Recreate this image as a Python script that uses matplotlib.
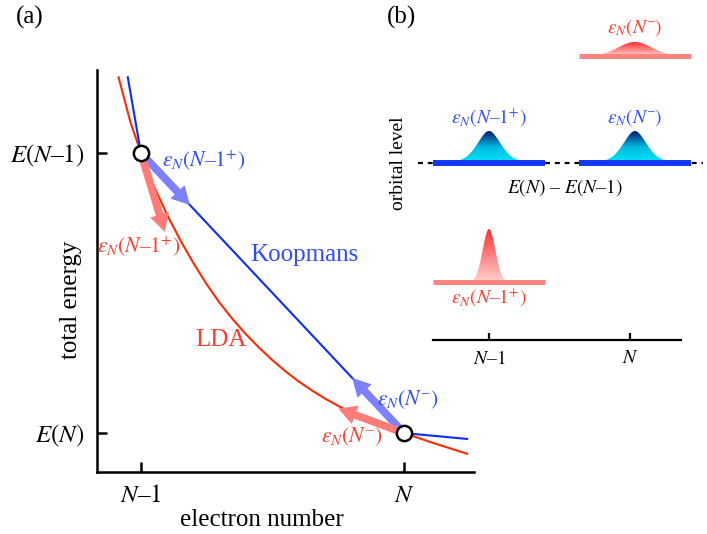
import numpy as np
import matplotlib
matplotlib.use("Agg")
import matplotlib.pyplot as plt
from matplotlib.patches import Polygon
from matplotlib.colors import LinearSegmentedColormap

plt.rcParams['font.family'] = 'serif'
plt.rcParams['font.serif'] = ['Liberation Serif', 'DejaVu Serif']
plt.rcParams['mathtext.fontset'] = 'stix'

# ---- (a) total energy vs electron number (N-1 -> 0, N -> 1)
lda_x = [-0.085, -0.04, 0.0, 0.05, 0.1, 0.15, 0.2, 0.25, 0.3, 0.35, 0.4, 0.45, 0.5,
         0.55, 0.6, 0.65, 0.7, 0.75, 0.8, 0.85, 0.9, 0.95, 1.0, 1.05, 1.1, 1.15, 1.2, 1.24]
lda_E = [1.27, 1.11, 1.0, 0.88, 0.778, 0.688, 0.606, 0.531, 0.464, 0.405, 0.352, 0.304, 0.26,
         0.22, 0.184, 0.152, 0.123, 0.097, 0.073, 0.052, 0.033, 0.016, 0.0, -0.016, -0.032, -0.047, -0.062, -0.074]
koop_x = [-0.05, 0.0, 1.0, 1.24]
koop_E = [1.27, 1.0, 0.0, -0.021]

integer_x = [0.0, 1.0]
integer_E = [1.0, 0.0]
x_ticklabels = [r'$N$–$1$', r'$N$']
y_ticklabels = [r'$E(N$–$1)$', r'$E(N)$']

# tangent arrows: slope and x-extent from each integer point
koop_slopes = [-1.0, -1.0]
koop_dx = [0.186, -0.197]
lda_slopes = [-3.1, -0.35]
lda_dx = [0.091, -0.25]

# ---- (b) orbital levels
level_x = [0.0, 1.035]
koop_level = [0.0, 0.0]
lda_level = [-1.19, 1.07]
koop_peak_h = [0.32, 0.32]
koop_width = [0.085, 0.085]
lda_peak_h = [0.53, 0.14]
lda_width = [0.045, 0.12]
bar_half = 0.4

RED = '#ff2a00'
BLUE = '#0a2cff'
RED_TXT = '#ff3b2a'
BLUE_TXT = '#2f4bff'
RED_ARR = '#ff7c78'
BLUE_ARR = '#7d80ff'

fig = plt.figure(figsize=(7.07, 5.34), dpi=100)

ax = fig.add_axes([97/707, 1-472/534, 377/707, 402/534])
ax.set_xlim(-0.167, 1.266)
ax.set_ylim(-0.139, 1.296)
ax.plot(lda_x, lda_E, color=RED, lw=1.5, zorder=2)
ax.plot(koop_x, koop_E, color=BLUE, lw=1.5, zorder=2)

arrow_kw = dict(arrowstyle='simple,head_length=0.65,head_width=0.7,tail_width=0.28',
                mutation_scale=20, shrinkA=0, shrinkB=0, lw=0)
for i in range(2):
    x0, y0 = integer_x[i], integer_E[i]
    ax.annotate('', xy=(x0 + koop_dx[i], y0 + koop_slopes[i]*koop_dx[i]), xytext=(x0, y0),
                arrowprops=dict(color=BLUE_ARR, **arrow_kw), zorder=3)
    ax.annotate('', xy=(x0 + lda_dx[i], y0 + lda_slopes[i]*lda_dx[i]), xytext=(x0, y0),
                arrowprops=dict(color=RED_ARR, **arrow_kw), zorder=3)

ax.plot(integer_x, integer_E, 'o', ms=11, mfc='white', mec='black', mew=1.8, zorder=5)

ax.set_xticks(integer_x)
ax.set_xticklabels(x_ticklabels)
ax.set_yticks(integer_E)
ax.set_yticklabels(y_ticklabels)
ax.tick_params(direction='in', length=7, width=1.8, labelsize=18, pad=9)
for s in ['top', 'right']:
    ax.spines[s].set_visible(False)
for s in ['left', 'bottom']:
    ax.spines[s].set_linewidth(1.8)
ax.set_xlabel('electron number', fontsize=18)
ax.xaxis.set_label_coords(0.4377, -0.092)
ax.set_ylabel('total energy', fontsize=18)
ax.yaxis.set_label_coords(-0.04, 0.428)

ax.text(0.24, 0.97, r'$\varepsilon_N(N$–$1^{+})$', color=BLUE_TXT, fontsize=15.5, ha='center', va='center')
ax.text(-0.01, 0.666, r'$\varepsilon_N(N$–$1^{+})$', color=RED_TXT, fontsize=15.5, ha='center', va='center')
ax.text(0.62, 0.636, 'Koopmans', color=BLUE_TXT, fontsize=18, ha='center', va='center')
ax.text(0.304, 0.332, 'LDA', color=RED_TXT, fontsize=18, ha='center', va='center')
ax.text(1.012, 0.118, r'$\varepsilon_N(N^{–})$', color=BLUE_TXT, fontsize=15.5, ha='center', va='center')
ax.text(0.80, -0.014, r'$\varepsilon_N(N^{–})$', color=RED_TXT, fontsize=15.5, ha='center', va='center')

fig.text(30/707, 1-17/534, '(a)', fontsize=18, ha='center', va='center')
fig.text(402/707, 1-17/534, '(b)', fontsize=18, ha='center', va='center')

# ---- (b)
bx = fig.add_axes([418/707, 1-340/534, 285/707, 320/534])
bx.patch.set_alpha(0)


def gradient_peak(axis, x0, base, height, width, colors, lorentz_frac=0.0):
    # pseudo-Voigt shape filled with a vertical colour gradient
    xs = np.linspace(x0 - bar_half, x0 + bar_half, 400)
    u = (xs - x0)/width
    prof = (1 - lorentz_frac)*np.exp(-0.5*u**2) + lorentz_frac/(1.0 + (u/1.1)**2)
    ys = base + height*prof
    verts = np.column_stack([np.r_[xs, xs[::-1]], np.r_[ys, np.full_like(xs, base)]])
    patch = Polygon(verts, closed=True, facecolor='none', edgecolor='none')
    axis.add_patch(patch)
    cmap = LinearSegmentedColormap.from_list('peak', colors)
    grad = np.linspace(0, 1, 256).reshape(-1, 1)
    im = axis.imshow(grad, extent=[x0 - bar_half, x0 + bar_half, base, base + height],
                     origin='lower', cmap=cmap, aspect='auto', zorder=2)
    im.set_clip_path(patch)


bx.plot([-0.504, 1.518], [0, 0], color='black', lw=1.6, ls=(0, (2.2, 2.2)), zorder=1)
for i in range(2):
    gradient_peak(bx, level_x[i], koop_level[i], koop_peak_h[i], koop_width[i],
                  ['#00eaf8', '#00b8e0', '#08186e'], lorentz_frac=0.35)
    bx.plot([level_x[i] - bar_half, level_x[i] + bar_half], [koop_level[i]]*2,
            color='#1538f2', lw=4.3, solid_capstyle='butt', zorder=3)
    gradient_peak(bx, level_x[i], lda_level[i], lda_peak_h[i], lda_width[i], ['#ffd2d0', '#ff3030'])
    bx.plot([level_x[i] - bar_half, level_x[i] + bar_half], [lda_level[i]]*2,
            color='#ff8480', lw=3.6, solid_capstyle='butt', zorder=3)

bx.text(level_x[0], 0.45, r'$\varepsilon_N(N$–$\mathit{1}^{+})$', color=BLUE_TXT, fontsize=14, ha='center', va='center')
bx.text(level_x[1], 0.45, r'$\varepsilon_N(N^{–})$', color=BLUE_TXT, fontsize=14, ha='center', va='center')
bx.text(level_x[1], 1.35, r'$\varepsilon_N(N^{–})$', color=RED_TXT, fontsize=14, ha='center', va='center')
bx.text(level_x[0], -1.35, r'$\varepsilon_N(N$–$\mathit{1}^{+})$', color=RED_TXT, fontsize=14, ha='center', va='center')
bx.text(0.54, -0.25, r'$E(N)$ – $E(N$–$1)$', fontsize=14, ha='center', va='center')
bx.text(-0.64, 0.0, 'orbital level', fontsize=14, rotation=90, ha='center', va='center')

bx.set_xlim(-0.504, 1.518)
bx.set_ylim(-1.77, 1.43)
bx.set_xticks(integer_x)
bx.set_xticklabels(x_ticklabels)
bx.set_yticks([])
bx.tick_params(direction='in', length=5, width=1.6, labelsize=14, pad=7)
for s in ['top', 'right', 'left']:
    bx.spines[s].set_visible(False)
bx.spines['bottom'].set_linewidth(1.6)
bx.spines['bottom'].set_bounds(-0.397, 1.362)

fig.savefig('out.png', dpi=100)
